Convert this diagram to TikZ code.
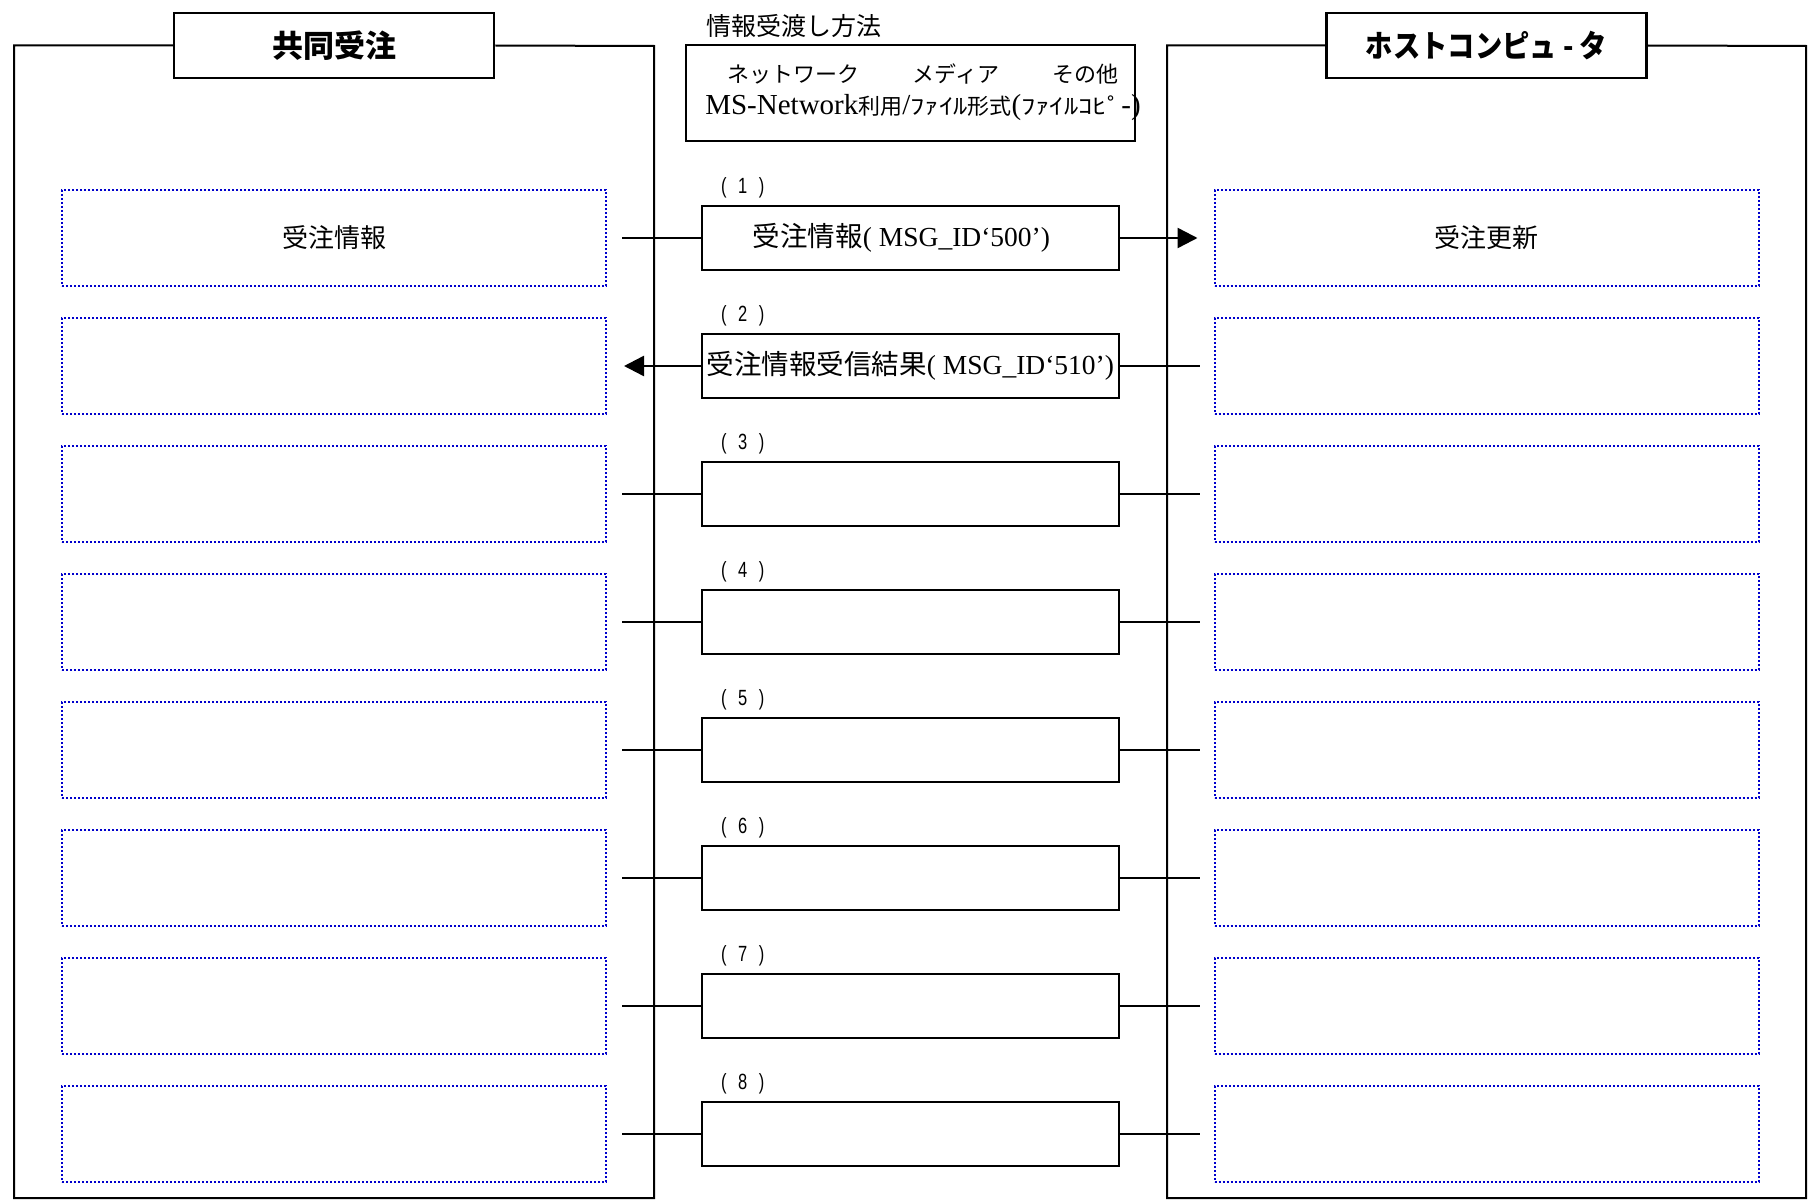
\documentclass[tikz,border=0pt]{standalone}
\usepackage{fontspec}
\setmainfont{Liberation Serif}
\newfontfamily\jp{Noto Sans CJK JP}
\newfontfamily\numfont{Liberation Sans}
\usepackage{tikz}
\usetikzlibrary{arrows.meta}
\usetikzlibrary{positioning}
\newcommand{\smalljp}[1]{{\jp\fontsize{22}{32}\selectfont #1}}
\newcommand{\halfjp}[1]{\scalebox{1.3}[1]{\smalljp{#1}}}
\newcommand{\stepno}[1]{\scalebox{0.75}[1]{(\hspace{0.7em}#1\hspace{0.7em})}}
\tikzset{frame/.style = {draw, line width = 2}}
\tikzset{titlebox/.style = {draw, line width = 2.5, fill = white, minimum width = 320, minimum height = 65, inner sep = 0, font = \jp\bfseries\fontsize{31}{34}\selectfont}}
\tikzset{unit/.style = {draw = blue!80!black, line width = 2, dash pattern = on 2pt off 2pt, minimum width = 544, minimum height = 96, inner sep = 0, font = \jp\fontsize{26}{30}\selectfont}}
\tikzset{msg/.style = {draw, line width = 2.5, minimum width = 417, minimum height = 64, inner sep = 0, font = \fontsize{27.5}{30}\selectfont}}
\tikzset{num/.style = {inner sep = 0, font = \numfont\fontsize{22}{24}\selectfont}}
\tikzset{link/.style = {line width = 2.5, >={Triangle[length=20pt, width=20pt]}}}

\begin{document}
\begin{tikzpicture}[x = 1pt, y = -1pt]
    \useasboundingbox (0, 0) rectangle (1810, 1204);
    % sides
    \node [titlebox] (jointitle) at (334, 45.5) {共同受注};
    \node [titlebox] (hosttitle) at (1486.5, 45.5) {\scalebox{0.88}[1]{ホストコンピュ - タ}};
    \draw [frame] (jointitle.west) -| (14, 1198) -| (654, 46) -- (jointitle.east);
    \draw [frame] (hosttitle.west) -| (1167, 1198) -| (1806, 46) -- (hosttitle.east);
    % transfer method
    \node [anchor = west, inner sep = 0, font = \jp\fontsize{25}{28}\selectfont] (infohead) at (706, 26) {情報受渡し方法};
    \node [draw, line width = 2, minimum width = 449, minimum height = 96, inner sep = 0] (info) at (910.5, 93) {};
    \node [align = center, inner sep = 0, font = \fontsize{29}{32}\selectfont] (infotext) at (923, 92)
        {\smalljp{ネットワーク\hspace{2.4em}メディア\hspace{2.4em}その他}\\
         MS-Network\smalljp{利用}/\halfjp{ﾌｧｲﾙ}\smalljp{形式}(\halfjp{ﾌｧｲﾙｺﾋﾟ}-)};
    % (1)
    \node [unit] (L1) at (334, 238) {受注情報};
    \node [unit] (R1) at (1486.5, 238) {受注更新};
    \node [msg] (M1) at (910.5, 238) {{\jp 受注情報}( MSG\_ID‘500’)\kern18pt};
    \node [num] (n1) at ([xshift = 42pt, yshift = 17pt]M1.north west) {\stepno{1}};
    \coordinate (lc1) at ([xshift = 15pt]L1.east);
    \coordinate (rc1) at ([xshift = -16pt]R1.west);
    \draw [link] (lc1) -- (M1.west);
    \draw [link, ->] (M1.east) -- (rc1);
    % (2)
    \node [unit] (L2) at (334, 366) {};
    \node [unit] (R2) at (1486.5, 366) {};
    \node [msg] (M2) at (910.5, 366) {{\jp 受注情報受信結果}( MSG\_ID‘510’)};
    \node [num] (n2) at ([xshift = 42pt, yshift = 17pt]M2.north west) {\stepno{2}};
    \coordinate (lc2) at ([xshift = 17pt]L2.east);
    \coordinate (rc2) at ([xshift = -14pt]R2.west);
    \draw [link, <-] (lc2) -- (M2.west);
    \draw [link] (M2.east) -- (rc2);
    % (3) - (8)
    \foreach \i in {3, ..., 8} {
        \pgfmathsetmacro{\y}{238 + 128 * (\i - 1)}
        \node [unit] (L\i) at (334, \y) {};
        \node [unit] (R\i) at (1486.5, \y) {};
        \node [msg] (M\i) at (910.5, \y) {};
        \node [num] (n\i) at ([xshift = 42pt, yshift = 17pt]M\i.north west) {\stepno{\i}};
        \coordinate (lc\i) at ([xshift = 15pt]L\i.east);
        \coordinate (rc\i) at ([xshift = -14pt]R\i.west);
        \draw [link] (lc\i) -- (M\i.west);
        \draw [link] (M\i.east) -- (rc\i);
    }
\end{tikzpicture}
\end{document}
